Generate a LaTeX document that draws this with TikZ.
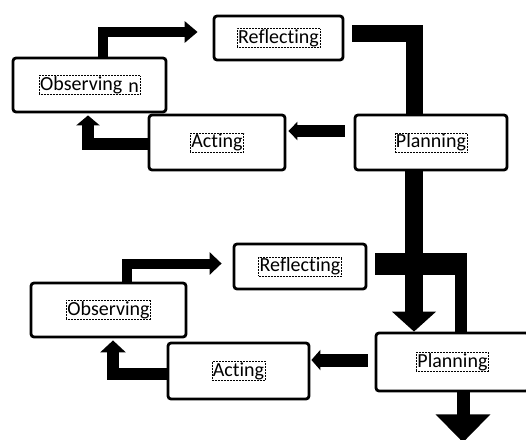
\documentclass[tikz,border=0pt]{standalone}
\usepackage{fontspec}
\setmainfont{Carlito}[Ligatures=NoCommon]
\usetikzlibrary{arrows.meta, backgrounds}

\begin{document}
\begin{tikzpicture}[
    x=1pt, y=-1pt,
    stage/.style={rectangle, rounded corners=3pt, draw=black, line width=2.8pt,
                  fill=white, inner sep=0pt},
    tag/.style={rectangle, draw=black, densely dotted, line width=0.5pt,
                inner sep=1pt, font=\fontsize{20}{23}\selectfont},
    flow/.style={draw=black, line join=miter},
]
\useasboundingbox (0,0) rectangle (526,439);

% Upper cycle
\node[stage, minimum width=129pt, minimum height=44pt] (refl1) at (278.5,38)  {};
\node[stage, minimum width=153pt, minimum height=54pt] (obs1)  at (89.5,85)   {};
\node[stage, minimum width=136pt, minimum height=55pt] (act1)  at (217,142.5) {};
\node[stage, minimum width=152pt, minimum height=55pt] (plan1) at (431,142.5) {};

\node[tag] (refl1-t) at (refl1) {Reflecting};
\node[tag] (obs1-t)  at (obs1)  {Observing\hspace{6pt}\raisebox{-2pt}{n}};
\node[tag] (act1-t)  at (act1)  {Acting};
\node[tag] (plan1-t) at (plan1) {Planning};

% Lower cycle
\node[stage, minimum width=132pt, minimum height=45pt] (refl2) at (300,266.5) {};
\node[stage, minimum width=155pt, minimum height=54pt] (obs2)  at (108.5,310) {};
\node[stage, minimum width=141pt, minimum height=56pt] (act2)  at (238.5,371) {};
\node[stage, minimum width=153pt, minimum height=58pt] (plan2) at (452.5,362) {};

\node[tag] (refl2-t) at (refl2) {Reflecting};
\node[tag] (obs2-t)  at (obs2)  {Observing};
\node[tag] (act2-t)  at (act2)  {Acting};
\node[tag] (plan2-t) at (plan2) {Planning};

\begin{scope}[on background layer]
% upper arrows
\draw[flow, line width=10pt, -{Triangle[length=13pt, width=21pt]}]
    ([xshift=13pt]obs1.north) |- ([xshift=-15pt, yshift=6pt]refl1.west);
\draw[flow, line width=17pt]
    ([xshift=8pt, yshift=4.5pt]refl1.east) -| ([xshift=-17pt]plan1.north);
\draw[flow, line width=12pt, -{Triangle[length=9pt, width=18pt]}]
    ([xshift=-9pt, yshift=11.5pt]plan1.west) -- ([xshift=2pt, yshift=11.5pt]act1.east);
\draw[flow, line width=12pt, -{Triangle[length=10pt, width=23pt]}]
    ([xshift=3pt, yshift=-1.5pt]act1.west) -| ([xshift=-1.5pt, yshift=-2pt]obs1.south);

% link between the cycles
\coordinate (drop) at ([xshift=-17pt]plan1.south);
\draw[flow, line width=18pt, -{Triangle[length=20pt, width=43pt]}]
    (drop) -- (drop |- plan2.north);

% lower arrows
\draw[flow, line width=10pt, -{Triangle[length=12pt, width=22pt]}]
    ([xshift=18.5pt]obs2.north) |- ([xshift=-11pt, yshift=3pt]refl2.west);
\coordinate (bend)  at ([xshift=8pt, yshift=2.5pt]refl2.east);
\coordinate (joint) at ([xshift=8.5pt]plan2.north);
\coordinate (elbow) at (joint |- bend);
\draw[flow, line width=12pt] (bend) -| (joint);
\draw[flow, line width=22pt] (bend) -- ([xshift=6pt]elbow);
\draw[flow, line width=13pt, -{Triangle[length=9pt, width=20pt]}]
    ([xshift=-7pt, yshift=2pt]plan2.west) -- ([xshift=1pt, yshift=11pt]act2.east);
\draw[flow, line width=12pt, -{Triangle[length=12pt, width=25pt]}]
    ([xshift=3pt, yshift=-3pt]act2.west) -| ([xshift=4.5pt, yshift=-2pt]obs2.south);
\coordinate (sink) at ([xshift=10.5pt, yshift=-50pt]plan2.south);
\draw[flow, line width=13pt, -{Triangle[length=28pt, width=53pt]}]
    ([xshift=10.5pt]plan2.south) -- (sink);
\end{scope}

\end{tikzpicture}
\end{document}
